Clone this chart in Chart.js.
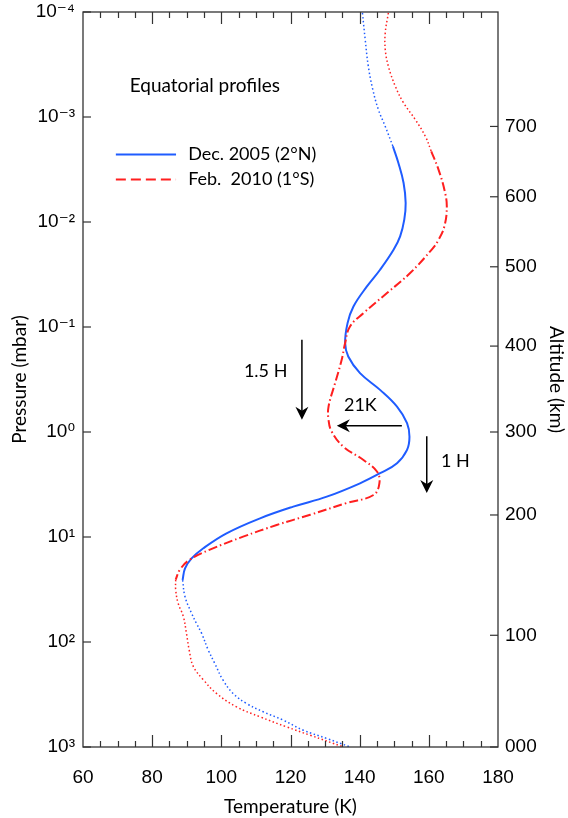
<!DOCTYPE html>
<html>
<head>
<meta charset="utf-8">
<script src="https://cdn.jsdelivr.net/npm/chart.js@4.4.1/dist/chart.umd.min.js"></script>
<style>
  html, body { margin: 0; padding: 0; background: #fff; }
  #wrap { width: 568px; height: 818px; position: relative; }
</style>
</head>
<body>
<div id="wrap"><canvas id="chart"></canvas></div>
<script>
// ========================
// DATA (temperature in K, pressure in mbar)
// ========================
// Dec. 2005 (2°N) - extrapolated part above the retrieval
const decTopT = [140.8, 141.6, 142.5, 143.8, 145.4, 147.4, 149.6];
const decTopP = [1.02e-4, 1.83e-4, 3.29e-4, 5.48e-4, 8.49e-4, 1.23e-3, 1.90e-3];
// Dec. 2005 (2°N) - retrieved profile
const decT = [149.6, 151.2, 152.7, 153.3, 152.9, 151.7, 149.8, 145.9, 142.1, 138.2,
              136.5, 135.8, 136.7, 140.1, 145.9, 150.8, 153.7, 154.4, 153.7, 150.8,
              145.9, 140.1, 130.5, 120.8, 111.2, 101.5, 94.8, 91.4, 89.5, 88.8];
const decP = [1.90e-3, 2.74e-3, 4.25e-3, 6.59e-3, 9.51e-3, 1.37e-2, 1.84e-2, 2.85e-2, 4.11e-2, 6.38e-2,
              9.18e-2, 0.142, 0.191, 0.275, 0.397, 0.573, 0.824, 1.11, 1.48, 1.98,
              2.47, 3.08, 4.13, 5.14, 6.64, 9.23, 12.8, 16.0, 19.9, 25.7];
// Dec. 2005 (2°N) - lower part
const decLowT = [88.8, 89.5, 91.4, 92.8, 94.3, 96.2, 98.1, 100.5, 103.4, 107.3, 112.1, 117.9, 123.7, 130.5, 137.2];
const decLowP = [25.7, 37.1, 53.3, 66.5, 82.8, 119, 160, 231, 309, 385, 462, 555, 692, 830, 998];

// Feb. 2010 (1°S) - extrapolated part above the retrieval
const febTopT = [148.3, 147.4, 147.4, 148.3, 150.3, 152.7, 156.1, 159.0, 160.7];
const febTopP = [1.02e-4, 1.58e-4, 2.28e-4, 3.29e-4, 5.09e-4, 7.35e-4, 1.06e-3, 1.53e-3, 2.12e-3];
// Feb. 2010 (1°S) - retrieved profile
const febT = [160.7, 162.8, 164.5, 165.2, 164.5, 162.8, 160.9, 154.6, 147.9, 141.1,
              137.2, 135.8, 134.8, 132.9, 131.0, 131.0, 131.9, 135.3, 141.1, 145.0,
              145.7, 144.0, 136.3, 125.7, 116.0, 106.3, 96.7, 90.9, 88.0, 86.8];
const febP = [2.12e-3, 3.17e-3, 4.92e-3, 7.10e-3, 1.10e-2, 1.48e-2, 1.82e-2, 3.06e-2, 4.75e-2, 7.38e-2,
              9.89e-2, 0.142, 0.205, 0.342, 0.573, 0.767, 0.991, 1.38, 1.85, 2.38,
              3.08, 3.98, 4.74, 6.14, 7.69, 9.93, 13.2, 16.4, 20.5, 25.5];
// Feb. 2010 (1°S) - lower part
const febLowT = [86.8, 86.8, 87.5, 89.0, 89.9, 90.7, 91.9, 94.8, 98.6, 104.4, 111.2, 118.9, 125.7, 135.3];
const febLowP = [25.5, 31.8, 42.6, 57.0, 82.2, 119, 171, 229, 309, 415, 516, 644, 773, 998];

// axes
const pressureTicks = [1e-4, 1e-3, 1e-2, 1e-1, 1, 10, 100, 1000];
const pressureLabels = ['10⁻⁴', '10⁻³', '10⁻²', '10⁻¹', '10⁰', '10¹', '10²', '10³'];
const altitudeTicks = [1000, 86.3, 6.17, 1, 0.152, 0.0267, 0.00575, 0.00123];
const altitudeLabels = ['000', '100', '200', '300', '400', '500', '600', '700'];

const BLUE = '#1f5cff';
const RED = '#ff1f1f';
const TEXT_FONT = 'Lato, "Open Sans", sans-serif';
const TICK_FONT = '"Liberation Sans", Arial, "DejaVu Sans", sans-serif';

function pts(ts, ps) {
  return ts.map((t, i) => ({ x: t, y: ps[i] }));
}

function line(data, color, dash, width) {
  return {
    data: data,
    showLine: true,
    borderColor: color,
    borderWidth: width,
    borderDash: dash,
    pointRadius: 0,
    tension: 0.4,
    fill: false
  };
}

// ========================
// FRAME, INWARD TICKS, LEGEND, ANNOTATIONS
// ========================
function arrow(ctx, x1, y1, x2, y2) {
  const ang = Math.atan2(y2 - y1, x2 - x1);
  const len = 13, half = 6.5;
  ctx.beginPath();
  ctx.moveTo(x1, y1);
  ctx.lineTo(x2 - Math.cos(ang) * 6, y2 - Math.sin(ang) * 6);
  ctx.stroke();
  ctx.save();
  ctx.translate(x2, y2);
  ctx.rotate(ang);
  ctx.beginPath();
  ctx.moveTo(0, 0);
  ctx.lineTo(-len, -half);
  ctx.lineTo(-len + 4, 0);
  ctx.lineTo(-len, half);
  ctx.closePath();
  ctx.fill();
  ctx.restore();
}

const decorations = {
  id: 'decorations',
  afterDatasetsDraw(chart) {
    const { ctx, chartArea: a, scales } = chart;
    const xs = scales.x, ys = scales.y;
    ctx.save();

    // frame
    ctx.strokeStyle = '#333';
    ctx.lineWidth = 1.3;
    ctx.strokeRect(a.left, a.top, a.right - a.left, a.bottom - a.top);

    // temperature ticks on top and bottom, pointing inwards
    ctx.lineWidth = 1.2;
    for (let t = 65; t < 180; t += 5) {
      const px = Math.round(xs.getPixelForValue(t)) + 0.5;
      const len = t % 20 === 0 ? 12 : 6;
      ctx.beginPath();
      ctx.moveTo(px, a.top); ctx.lineTo(px, a.top + len);
      ctx.moveTo(px, a.bottom); ctx.lineTo(px, a.bottom - len);
      ctx.stroke();
    }
    // pressure ticks on the left
    pressureTicks.forEach(p => {
      const py = ys.getPixelForValue(p);
      ctx.beginPath(); ctx.moveTo(a.left, py); ctx.lineTo(a.left + 8, py); ctx.stroke();
    });
    // altitude ticks on the right
    altitudeTicks.forEach(p => {
      const py = scales.y2.getPixelForValue(p);
      ctx.beginPath(); ctx.moveTo(a.right, py); ctx.lineTo(a.right - 8, py); ctx.stroke();
    });

    // title + legend
    ctx.fillStyle = '#000';
    ctx.font = '19px ' + TEXT_FONT;
    ctx.textBaseline = 'middle';
    ctx.textAlign = 'left';
    ctx.fillText('Equatorial profiles', xs.getPixelForValue(73.5), ys.getPixelForValue(5.0e-4));

    const lx1 = xs.getPixelForValue(69.5), lx2 = xs.getPixelForValue(86.9), tx = xs.getPixelForValue(90.4);
    const ly1 = ys.getPixelForValue(2.28e-3), ly2 = ys.getPixelForValue(3.94e-3);
    ctx.lineWidth = 2;
    ctx.strokeStyle = BLUE;
    ctx.beginPath(); ctx.moveTo(lx1, ly1); ctx.lineTo(lx2, ly1); ctx.stroke();
    ctx.strokeStyle = RED;
    ctx.setLineDash([10, 5]);
    ctx.beginPath(); ctx.moveTo(lx1, ly2); ctx.lineTo(lx2, ly2); ctx.stroke();
    ctx.setLineDash([]);
    ctx.font = '18px ' + TEXT_FONT;
    ctx.fillText('Dec. 2005 (2°N)', tx, ly1);
    ctx.fillText('Feb.  2010 (1°S)', tx, ly2);

    // arrows
    ctx.strokeStyle = '#000';
    ctx.lineWidth = 1.5;
    arrow(ctx, xs.getPixelForValue(123.3), ys.getPixelForValue(0.132), xs.getPixelForValue(123.3), ys.getPixelForValue(0.764));
    arrow(ctx, xs.getPixelForValue(152.2), ys.getPixelForValue(0.873), xs.getPixelForValue(133.4), ys.getPixelForValue(0.873));
    arrow(ctx, xs.getPixelForValue(159.4), ys.getPixelForValue(1.10), xs.getPixelForValue(159.4), ys.getPixelForValue(3.82));

    ctx.font = '18px ' + TEXT_FONT;
    ctx.textAlign = 'right';
    ctx.fillText('1.5 H', xs.getPixelForValue(119.1), ys.getPixelForValue(0.265));
    ctx.textAlign = 'center';
    ctx.fillText('21K', xs.getPixelForValue(140.2), ys.getPixelForValue(0.551));
    ctx.textAlign = 'left';
    ctx.fillText('1 H', xs.getPixelForValue(163.5), ys.getPixelForValue(1.91));

    ctx.restore();
  }
};

// ========================
// CHART
// ========================
const DOT = [1.5, 2.5];
const DASHDOT = [9, 3, 1.5, 3];

new Chart(document.getElementById('chart'), {
  type: 'scatter',
  data: {
    datasets: [
      line(pts(decTopT, decTopP), BLUE, DOT, 1.5),
      line(pts(decLowT, decLowP), BLUE, DOT, 1.5),
      line(pts(febTopT, febTopP), RED, DOT, 1.5),
      line(pts(febLowT, febLowP), RED, DOT, 1.5),
      line(pts(febT, febP), RED, DASHDOT, 2),
      line(pts(decT, decP), BLUE, [], 2)
    ]
  },
  options: {
    responsive: true,
    maintainAspectRatio: false,
    animation: false,
    devicePixelRatio: 1,
    layout: { padding: { top: 12, left: 0, right: 0, bottom: 0 } },
    plugins: { legend: { display: false }, tooltip: { enabled: false } },
    scales: {
      x: {
        type: 'linear',
        position: 'bottom',
        min: 60, max: 180,
        grid: { display: false, drawTicks: false },
        border: { display: false },
        ticks: { stepSize: 20, padding: 19, color: '#000', font: { family: TICK_FONT, size: 19 } },
        title: { display: true, text: 'Temperature (K)', color: '#000', padding: { top: 0, bottom: 0 }, font: { family: TEXT_FONT, size: 19 } },
        afterFit(s) { s.height = 71; s.paddingLeft = 0; s.paddingRight = 0; }
      },
      y: {
        type: 'logarithmic',
        position: 'left',
        reverse: true,
        min: 1e-4, max: 1e3,
        grid: { display: false, drawTicks: false },
        border: { display: false },
        afterBuildTicks(s) { s.ticks = pressureTicks.map(v => ({ value: v })); },
        ticks: {
          padding: 8, color: '#000', font: { family: TICK_FONT, size: 19 },
          callback: (v, i) => pressureLabels[i]
        },
        title: { display: true, text: 'Pressure (mbar)', color: '#000', padding: { top: 8, bottom: 0 }, font: { family: TEXT_FONT, size: 19 } },
        afterFit(s) { s.width = 83; s.paddingTop = 0; s.paddingBottom = 0; }
      },
      y2: {
        type: 'logarithmic',
        position: 'right',
        reverse: true,
        min: 1e-4, max: 1e3,
        grid: { display: false, drawTicks: false },
        border: { display: false },
        afterBuildTicks(s) { s.ticks = altitudeTicks.map(v => ({ value: v })); },
        ticks: {
          padding: 7, color: '#000', font: { family: TICK_FONT, size: 19 },
          callback: (v, i) => altitudeLabels[i]
        },
        title: { display: true, text: 'Altitude (km)', color: '#000', padding: { top: 0, bottom: 0 }, font: { family: TEXT_FONT, size: 19 } },
        afterFit(s) { s.width = 70; s.paddingTop = 0; s.paddingBottom = 0; }
      }
    }
  },
  plugins: [decorations]
});
</script>
</body>
</html>
